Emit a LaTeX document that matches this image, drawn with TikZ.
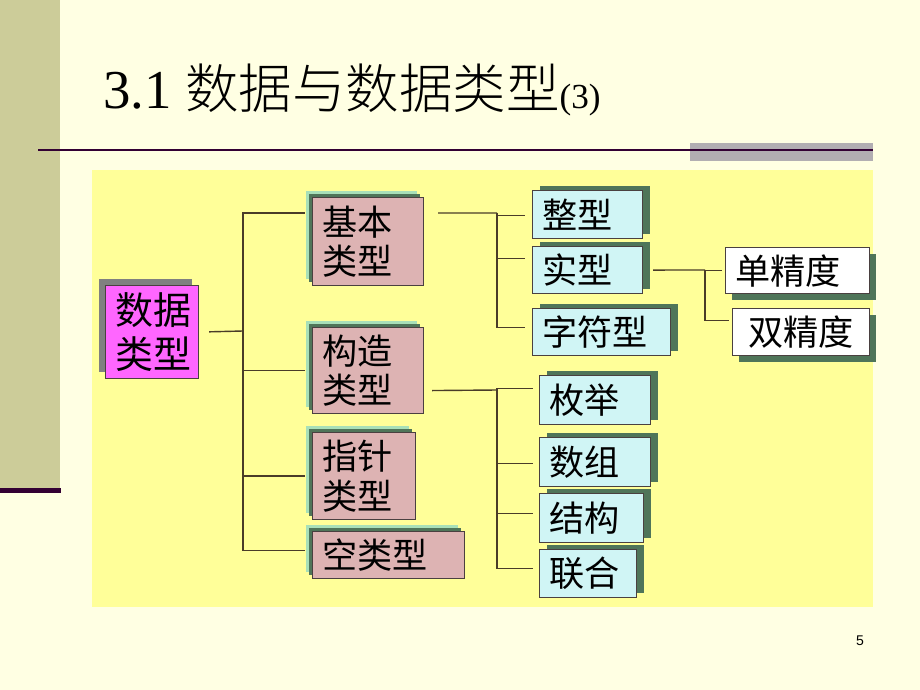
\documentclass[tikz,border=0pt]{standalone}
\usepackage{fontspec}
\setmainfont{Liberation Serif}
\newfontfamily\cjk{Noto Sans CJK SC}
\newfontfamily\cjklight{Noto Sans CJK SC Light}
\newfontfamily\pagefont{Liberation Sans}
\usepackage{tikz}
\usetikzlibrary{calc, shadows, positioning}

\definecolor{pagebg}{HTML}{FFFFE3}
\definecolor{leftbar}{HTML}{CCCC99}
\definecolor{panel}{HTML}{FFFF99}
\definecolor{rulec}{HTML}{330033}
\definecolor{grayblock}{HTML}{B2AEB2}
\definecolor{rootfill}{HTML}{FF66FF}
\definecolor{rootshadow}{HTML}{808080}
\definecolor{kindfill}{HTML}{DDB3B3}
\definecolor{leaffill}{HTML}{D0F5F5}
\definecolor{darkgreen}{HTML}{4F7559}
\definecolor{lightgreen}{HTML}{A8E0B8}
\definecolor{boxline}{HTML}{4A4040}
\definecolor{linkc}{HTML}{4A3C28}

\tikzset{
  base/.style={draw=boxline, line width=0.8pt, anchor=north west, inner xsep=0.25cm, inner ysep=0pt,
    align=left, font=\cjk\fontsize{25}{28}\selectfont},
  root/.style={base, fill=rootfill, font=\cjk\fontsize{27}{31}\selectfont,
    general shadow={fill=rootshadow, shadow xshift=-0.175cm, shadow yshift=0.175cm}},
  kind/.style={base, fill=kindfill,
    general shadow={fill=lightgreen, shadow xshift=-0.175cm, shadow yshift=0.175cm},
    general shadow={fill=darkgreen, shadow xshift=-0.1cm, shadow yshift=0.1cm}},
  leaf/.style={base, fill=leaffill,
    general shadow={fill=darkgreen, shadow xshift=0.175cm, shadow yshift=0.125cm}},
  prec/.style={base, fill=white,
    general shadow={fill=darkgreen, shadow xshift=0.15cm, shadow yshift=-0.15cm}},
  link/.style={draw=linkc, line width=1pt}
}

\begin{document}
\begin{tikzpicture}[x=0.025cm, y=-0.025cm] % 1 单位 = 1 像素

  % 背景
  \useasboundingbox (0,0) rectangle (920,690);
  \fill[pagebg] (0,0) rectangle (920,690);
  \fill[leftbar] (0,0) rectangle (60,490); % 左侧色条
  \fill[rulec] (0,488) rectangle (61,493);
  \fill[grayblock] (690,143) rectangle (873,161); % 右上灰块
  \draw[rulec, line width=1.5pt] (38,150) -- (873,150); % 标题横线
  \fill[panel] (92,170) rectangle (873,607); % 黄色底板

  % 标题
  \node[anchor=base west, font=\fontsize{39}{39}\selectfont, inner sep=0pt] (title) at (103,108)
    {3.1 {\cjklight\fontsize{38}{38}\selectfont 数据与数据类型}{\fontsize{25}{25}\selectfont(3)}};

  % 第一层
  \node[root, text width=1.825cm, minimum height=2.325cm] (root) at (105,285) {数据\\类型};

  % 第二层
  \node[kind, text width=2.275cm, minimum height=2.2cm] (basic) at (312,197) {基本\\类型};
  \node[kind, text width=2.275cm, minimum height=2.15cm] (struct) at (312,327) {构造\\类型};
  \node[kind, text width=2.075cm, minimum height=2.175cm] (point) at (312,432) {指针\\类型};
  \node[kind, text width=3.3cm, minimum height=1.175cm] (void) at (312,531) {空类型};

  % 基本类型
  \node[leaf, text width=2.25cm, minimum height=1.2cm] (int) at (532,190) {整型};
  \node[leaf, text width=2.25cm, minimum height=1.175cm] (real) at (532,246) {实型};
  \node[leaf, text width=2.95cm, minimum height=1.175cm] (char) at (532,308) {字符型};

  % 实型
  \node[prec, text width=3.1cm, minimum height=1.15cm] (single) at (725,247) {单精度};
  \node[prec, text width=2.925cm, minimum height=1.175cm] (double) at (732,308) {\,双精度};

  % 构造类型
  \node[leaf, text width=2.275cm, minimum height=1.225cm] (enum) at (539,375) {枚举};
  \node[leaf, text width=2.275cm, minimum height=1.225cm] (array) at (539,437) {数组};
  \node[leaf, text width=2.1cm, minimum height=1.225cm] (record) at (539,493) {结构};
  \node[leaf, text width=1.925cm, minimum height=1.2cm] (union) at (539,549) {联合};

  % 页码
  \node[font=\pagefont\fontsize{10}{10}\selectfont] (page) at (860,641) {5};

  % 连线
  \coordinate (j1) at (243,331);
  \coordinate (j2) at (497,213);
  \coordinate (j3) at (705,270);
  \coordinate (j4) at (497,390);

  \draw[link, shorten <=0.25cm] (root.east) -- (j1);
  \foreach \n/\f in {basic/0.18, struct/0.5, point/0.5, void/0.4}
    \draw[link, shorten >=0.175cm] (j1) |- ($(\n.north west)!\f!(\n.south west)$);

  \draw[link, shorten <=0.35cm] ($(basic.north east)!0.18!(basic.south east)$) -- (j2);
  \foreach \n/\f in {int/0.52, real/0.26, char/0.4}
    \draw[link, shorten >=0.175cm] (j2) |- ($(\n.north west)!\f!(\n.south west)$);

  \draw[link, shorten <=0.25cm] (real.east) -- (j3);
  \foreach \n/\f in {single/0.5, double/0.26}
    \draw[link, shorten >=0.08cm] (j3) |- ($(\n.north west)!\f!(\n.south west)$);

  \draw[link, shorten <=0.2cm] ($(struct.north east)!0.73!(struct.south east)$) -- (j4);
  \foreach \n/\f in {enum/0.27, array/0.53, record/0.41, union/0.4}
    \draw[link, shorten >=0.15cm] (j4) |- ($(\n.north west)!\f!(\n.south west)$);

\end{tikzpicture}
\end{document}
